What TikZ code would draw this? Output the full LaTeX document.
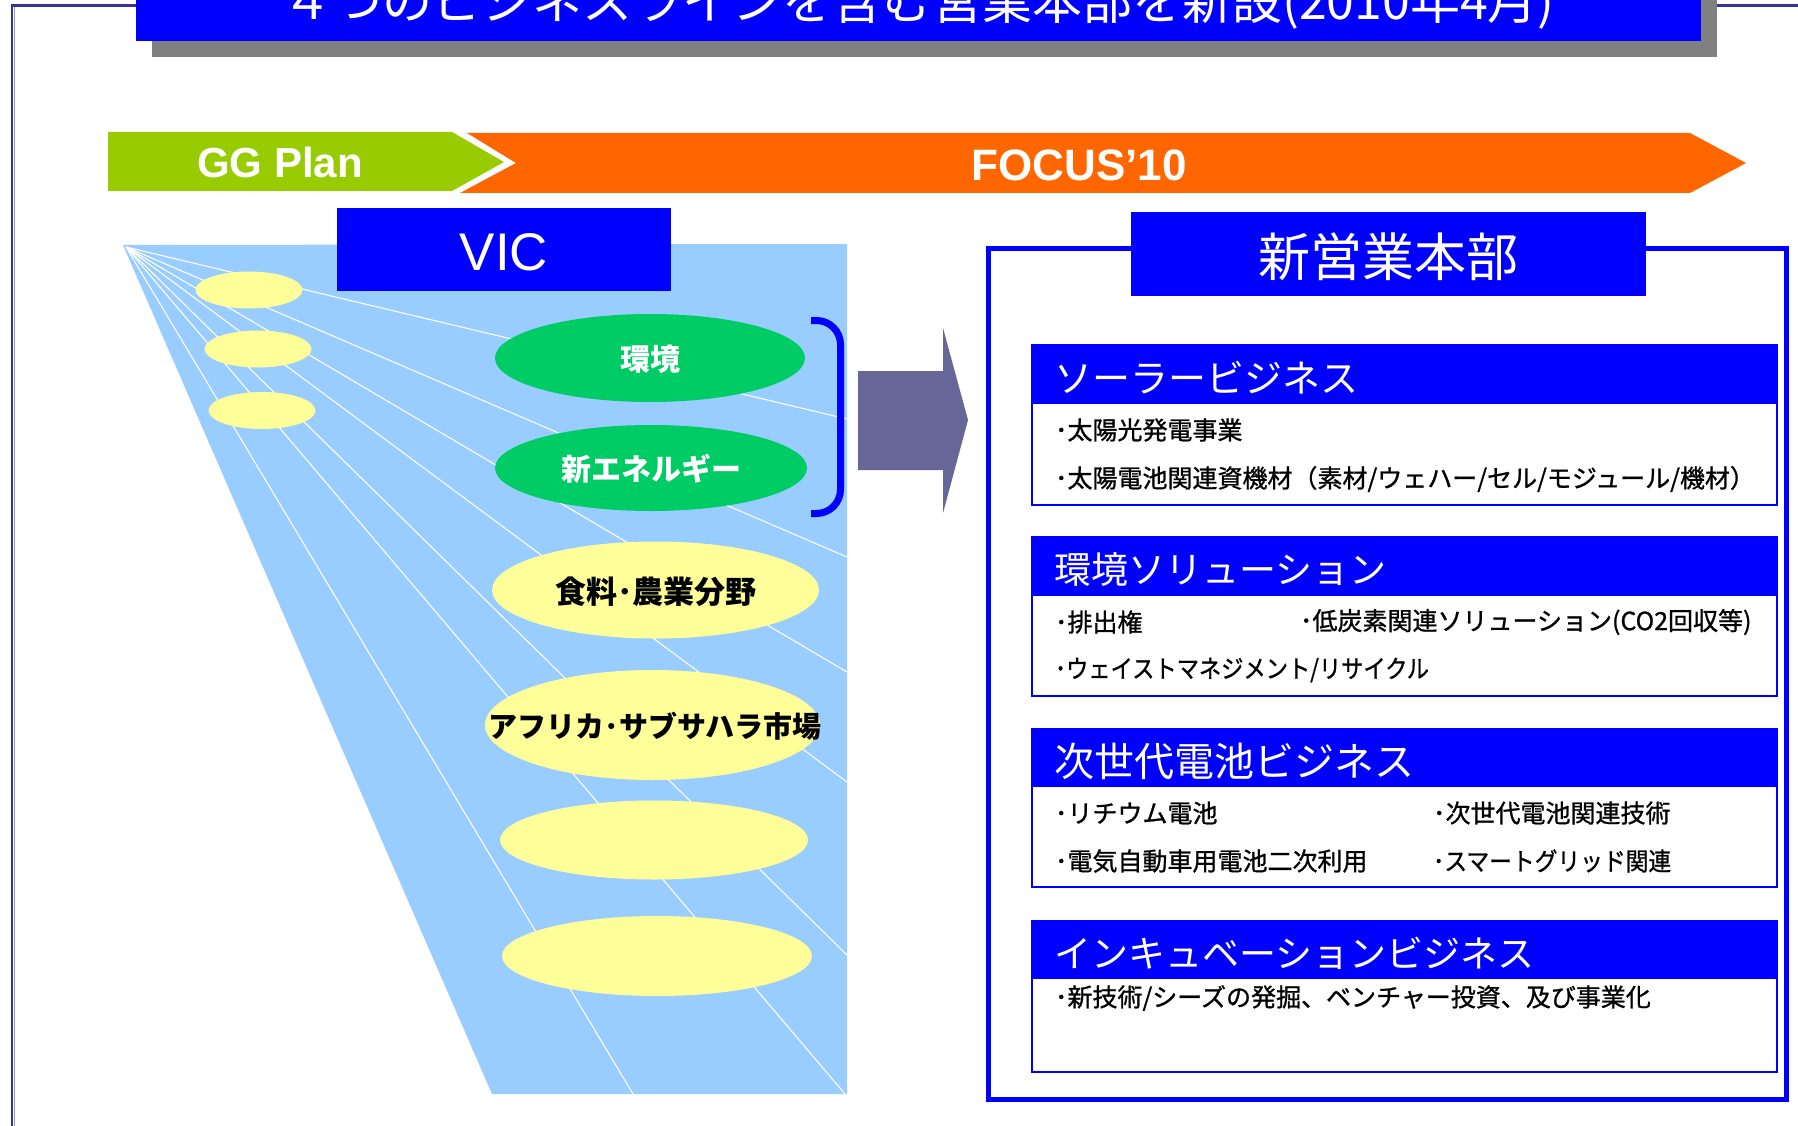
\documentclass[tikz,border=0pt]{standalone}
\usepackage{fontspec}
\setmainfont{Liberation Sans}
\newfontfamily\jp{Noto Sans CJK JP}
\newfontfamily\jpm{Noto Sans CJK JP}[FakeBold=1.0]
\usetikzlibrary{shapes.geometric}
\definecolor{framec}{HTML}{333399}
\definecolor{framelt}{HTML}{9999CC}
\definecolor{bblue}{HTML}{0000FF}
\definecolor{shadowc}{HTML}{808080}
\definecolor{ggc}{HTML}{99CC00}
\definecolor{focc}{HTML}{FF6600}
\definecolor{skyc}{HTML}{99CCFF}
\definecolor{yelc}{HTML}{FFFF99}
\definecolor{grnc}{HTML}{00CC66}
\definecolor{arrc}{HTML}{666699}
\newcommand{\fsz}[1]{\fontsize{#1}{#1}\selectfont}
\begin{document}
\begin{tikzpicture}[x=1pt,y=-1pt,
  fanline/.style={white, line width=1.1},
  smallell/.style={ellipse, fill=yelc, inner sep=0, minimum width=107, minimum height=37},
  ellbase/.style={ellipse, inner sep=0},
  lbl/.style={inner sep=0, outer sep=0},
  ellw/.style={lbl, text=white, font={\jp\bfseries\fsz{30}}},
  ellk/.style={lbl, text=black, font={\jp\bfseries\fsz{31}}},
  item/.style={lbl, anchor=west, font={\jpm\fsz{25}}, text=black},
  hdr/.style={lbl, anchor=west, font={\jp\fsz{37}}, text=white},
  subbox/.style={draw=bblue, line width=2.5, fill=white},
]
\useasboundingbox (0,0) rectangle (1798,1126);
\clip (0,0) rectangle (1798,1126);
\fill[white] (0,0) rectangle (1798,1126);
% outer frame
\draw[framec, line width=2.5] (12.2,1140) -- (12.2,5.5) -- (1810,5.5);
\draw[framelt, line width=1.6] (14.5,1140) -- (14.5,6.8);
% title
\fill[shadowc] (152,-20) rectangle (1717,57);
\fill[bblue] (136,-20) rectangle (1701,41);
\node[lbl, anchor=base, text=white, font={\jp\fsz{50}}] (title) at (918.5,20) {４つのビジネスラインを含む営業本部を新設(2010年4月)};
% plan arrows
\fill[focc] (467,133) -- (1690,133) -- (1746,163) -- (1690,193) -- (460,193) -- (516,163) -- cycle;
\fill[ggc] (108,132) -- (452,132) -- (504,162) -- (452,191) -- (108,191) -- cycle;
\node[lbl, anchor=base, text=white, font={\bfseries\fsz{42}}] (gg) at (280,178) {GG Plan};
\node[lbl, anchor=base, text=white, font={\bfseries\fsz{44}}] (focus) at (1079,181) {FOCUS’10};
% VIC fan
\fill[skyc] (123,245) -- (847,244) -- (847,1094) -- (492,1094) -- cycle;
\coordinate (apex) at (126,247);
\foreach \ex/\ey in {633/1094, 845/1094, 847/955, 847/782, 847/672, 847/557, 847/419}
  \draw[fanline] (apex) -- (\ex,\ey);
\node[fill=bblue, minimum width=334, minimum height=83, inner sep=0] (vicbox) at (504,249.5) {};
\node[lbl, anchor=base, text=white, font={\fsz{53}}] (vic) at (504,270) {VIC};
% small ellipses
\node[smallell] (s1) at (249,290) {};
\node[smallell] (s2) at (258,349) {};
\node[smallell] (s3) at (262,410.5) {};
% green ellipses
\node[ellbase, fill=grnc, minimum width=310, minimum height=88] (g1) at (650,358) {};
\node[ellw] (g1t) at (650,359) {環境};
\node[ellbase, fill=grnc, minimum width=312, minimum height=86] (g2) at (651,468) {};
\node[ellw] (g2t) at (651,468.5) {新エネルギー};
% yellow ellipses
\node[ellbase, fill=yelc, minimum width=327, minimum height=97] (y1) at (655.5,590) {};
\node[ellk] (y1t) at (656,591.5) {食料･農業分野};
\node[ellbase, fill=yelc, minimum width=335, minimum height=110] (y2) at (652.5,725) {};
\node[ellk, font={\jp\bfseries\fsz{29}}] (y2t) at (655,726.5) {アフリカ･サブサハラ市場};
\node[ellbase, fill=yelc, minimum width=308, minimum height=79] (y3) at (654,840) {};
\node[ellbase, fill=yelc, minimum width=310, minimum height=80] (y4) at (657,956) {};
% bracket
\draw[bblue, line width=7, rounded corners=24] (811,320.5) -- (840.5,320.5) -- (840.5,513.5) -- (811,513.5);
% big arrow
\fill[arrc] (858,371) -- (943,371) -- (943,328) -- (968,420) -- (943,513) -- (943,470) -- (858,470) -- cycle;
% right frame
\draw[bblue, line width=5] (988,248) rectangle (1786,1099);
\node[fill=bblue, minimum width=515, minimum height=84, inner sep=0] (hqbox) at (1388.5,254) {};
\node[lbl, text=white, font={\jp\fsz{52}}] (hq) at (1388,257) {新営業本部};
% box 1
\draw[subbox] (1032,345) rectangle (1777,505);
\fill[bblue] (1032,345) rectangle (1777,404);
\node[hdr, font={\jp\fsz{38}}] (h1) at (1054,377.5) {ソーラービジネス};
\node[item] (i11) at (1055,430) {･太陽光発電事業};
\node[item] (i12) at (1055,479) {･太陽電池関連資機材（素材/ウェハー/セル/モジュール/機材）};
% box 2
\draw[subbox] (1032,537) rectangle (1777,696);
\fill[bblue] (1032,537) rectangle (1777,596);
\node[hdr] (h2) at (1054,569.5) {環境ソリューション};
\node[item] (i21) at (1055,622) {･排出権};
\node[item] (i22) at (1300,622) {･低炭素関連ソリューション(CO2回収等)};
\node[item] (i23) at (1055,670) {\scalebox{0.89}[1]{･ウェイストマネジメント/リサイクル}};
% box 3
\draw[subbox] (1032,729) rectangle (1777,887);
\fill[bblue] (1032,729) rectangle (1777,787);
\node[hdr, font={\jp\fsz{40}}] (h3) at (1054,761) {次世代電池ビジネス};
\node[item] (i31) at (1055,813) {･リチウム電池};
\node[item] (i32) at (1433,813) {･次世代電池関連技術};
\node[item] (i33) at (1055,861) {･電気自動車用電池二次利用};
\node[item] (i34) at (1433,861) {\scalebox{0.91}[1]{･スマートグリッド関連}};
% box 4
\draw[subbox] (1032,921) rectangle (1777,1072);
\fill[bblue] (1032,921) rectangle (1777,979);
\node[hdr] (h4) at (1054,953) {インキュベーションビジネス};
\node[item] (i41) at (1055,998) {･新技術/シーズの発掘、ベンチャー投資、及び事業化};
\end{tikzpicture}
\end{document}
